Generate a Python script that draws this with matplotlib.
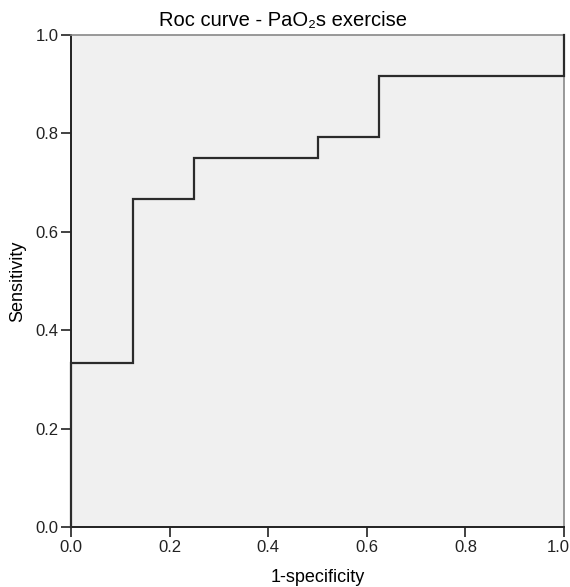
import matplotlib
matplotlib.use("Agg")
import matplotlib.pyplot as plt
import matplotlib.transforms as mtransforms

plt.rcParams['font.family'] = ['Liberation Sans', 'DejaVu Sans']

fpr = [0.0, 0.0, 0.125, 0.125, 0.25, 0.25, 0.5, 0.5, 0.625, 0.625, 1.0, 1.0]
tpr = [0.0, 0.333, 0.333, 0.667, 0.667, 0.75, 0.75, 0.792, 0.792, 0.917, 0.917, 1.0]
ticks = [0.0, 0.2, 0.4, 0.6, 0.8, 1.0]
tick_labels = ["0.0", "0.2", "0.4", "0.6", "0.8", "1.0"]

W, H = 570, 587
fig = plt.figure(figsize=(W/100, H/100), dpi=100)
x0, x1, y0, y1 = 71, 564, 527, 35
ax = fig.add_axes([x0/W, 1-y0/H, (x1-x0)/W, (y0-y1)/H])
ax.set_facecolor('#f0f0f0')
ax.plot(fpr, tpr, color='#2b2b2b', lw=1.6, solid_joinstyle='miter', clip_on=False, zorder=3)
ax.set_xlim(0, 1)
ax.set_ylim(0, 1)
ax.set_xticks(ticks)
ax.set_xticklabels(tick_labels)
ax.set_yticks(ticks)
ax.set_yticklabels(tick_labels)
ax.tick_params(direction='out', length=7, width=1.2, labelsize=12, colors='#222222', pad=2)
for s in ['left', 'bottom']:
    ax.spines[s].set_color('#222222')
    ax.spines[s].set_linewidth(1.4)
for s in ['top', 'right']:
    ax.spines[s].set_color('#888888')
    ax.spines[s].set_linewidth(1.2)
ax.set_xlabel('1-specificity', fontsize=13)
ax.set_ylabel('Sensitivity', fontsize=13)
ax.xaxis.set_label_coords(0.5, -(577-527)/(y0-y1), transform=ax.transAxes)
ax.xaxis.label.set_va('center')
ax.yaxis.set_label_coords(-(x0-18)/(x1-x0), 0.5, transform=ax.transAxes)
ax.yaxis.label.set_va('center')
# keep the last x tick label inside the figure, as in the reference
last = ax.get_xticklabels()[-1]
last.set_transform(last.get_transform() + mtransforms.ScaledTranslation(-6/100, 0, fig.dpi_scale_trans))
fig.text(283/W, 1-20/H, 'Roc curve - PaO₂s exercise', ha='center', va='center', fontsize=14.5)
fig.savefig('out.png', dpi=100)
